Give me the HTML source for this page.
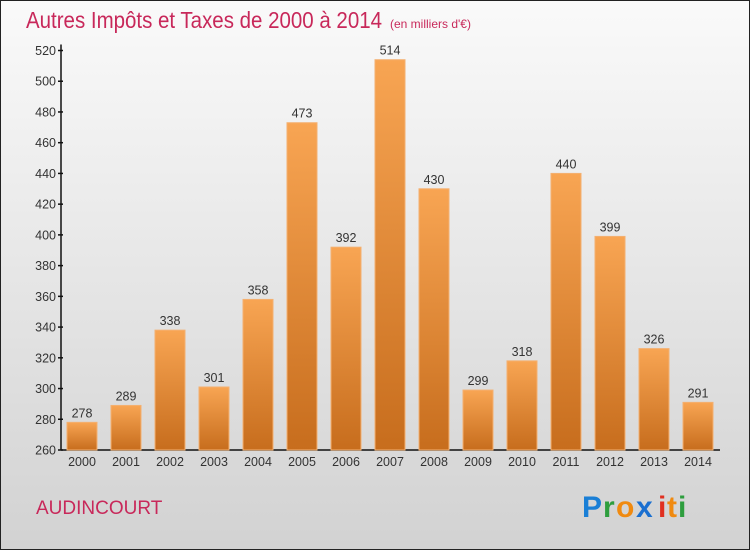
<!DOCTYPE html>
<html><head><meta charset="utf-8"><style>
body{margin:0}
#c{width:750px;height:550px;position:relative;font-family:"Liberation Sans",sans-serif}
svg text{font-family:"Liberation Sans",sans-serif}
</style></head><body>
<div id="c">
<svg id="s" width="750" height="550" viewBox="0 0 750 550">
<defs>
<linearGradient id="bg" x1="0" y1="0" x2="0" y2="1"><stop offset="0" stop-color="#fafafa"/><stop offset="1" stop-color="#d2d2d2"/></linearGradient>
<linearGradient id="bar" x1="0" y1="0" x2="0" y2="1"><stop offset="0" stop-color="#f8a553"/><stop offset="1" stop-color="#c76d1d"/></linearGradient>
</defs>
<rect x="0.5" y="0.5" width="749" height="549" fill="url(#bg)" stroke="#222"/>
<text x="26" y="28" font-size="23" fill="#c8285a" textLength="356" lengthAdjust="spacingAndGlyphs">Autres Impôts et Taxes de 2000 à 2014</text>
<text x="390" y="28" font-size="12" fill="#c8285a">(en milliers d'€)</text>
<text x="36" y="514" font-size="19" fill="#c8285a">AUDINCOURT</text>
<g font-size="30" font-weight="bold">
<text x="582" y="517" fill="#1a7fd6">P</text><text x="603" y="517" fill="#2e9e3e">r</text><text x="616" y="517" fill="#f08a10">o</text><text x="636" y="517" fill="#1a6fd0">x</text><text x="658" y="517" fill="#e03020">i</text><text x="667" y="517" fill="#f08a10">t</text><text x="678" y="517" fill="#2e9e3e">i</text>
</g>
<g id="axes"></g><g id="bars"></g>
</svg></div>
<script>
const categories=["2000","2001","2002","2003","2004","2005","2006","2007","2008","2009","2010","2011","2012","2013","2014"];
const values=[278,289,338,301,358,473,392,514,430,299,318,440,399,326,291];
const yTicks=[260,280,300,320,340,360,380,400,420,440,460,480,500,520];
const NS="http://www.w3.org/2000/svg";
const y0=450,y1=50.5,vmin=260,vmax=520;
function y(v){return y0-(v-vmin)/(vmax-vmin)*(y0-y1);}
function x(i){return 82+i*44;}
function mk(t,a,p){const e=document.createElementNS(NS,t);for(const k in a)e.setAttribute(k,a[k]);p.appendChild(e);return e;}
const ax=document.getElementById('axes'),bs=document.getElementById('bars');
const yl=mk('line',{x1:61,y1:y1-6,x2:61,y2:y0,stroke:'#111','stroke-width':1.5},ax);


const xl=mk('line',{x1:61,y1:y0,x2:720,y2:y0,stroke:'#111','stroke-width':1.5},ax);


yTicks.forEach(v=>{
 mk('line',{x1:58,x2:63,y1:y(v),y2:y(v),stroke:'#111','stroke-width':1.5},ax);
 const t=mk('text',{x:56,y:y(v)+4.5,'font-size':12.5,fill:'#333','text-anchor':'end'},ax);
 t.textContent=v;
 
 
});
categories.forEach((c,i)=>{
 const r=mk('rect',{x:x(i)-15,y:y(values[i]),width:30,height:y0-y(values[i]),fill:'url(#bar)',stroke:'#f4b070','stroke-width':1},bs);
 
 
 const t=mk('text',{x:x(i),y:y(values[i])-5,'font-size':12.5,fill:'#333','text-anchor':'middle'},bs);
 t.textContent=values[i];
 
 
 const l=mk('text',{x:x(i),y:466,'font-size':12.5,fill:'#333','text-anchor':'middle'},ax);
 l.textContent=c;
 
 
});
</script>
</body></html>
